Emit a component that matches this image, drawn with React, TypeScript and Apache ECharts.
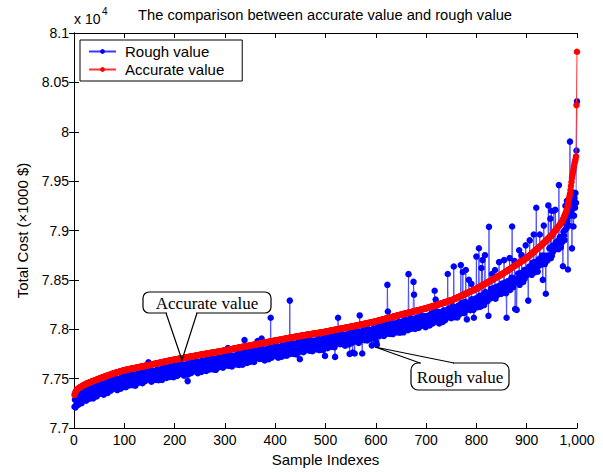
import React, { useEffect, useRef } from 'react';
import * as echarts from 'echarts';

const TITLE = 'The comparison between accurate value and rough value';
const LEGEND_ROUGH = 'Rough value';
const LEGEND_ACCURATE = 'Accurate value';
const X_NAME = 'Sample Indexes';
const Y_NAME = 'Total Cost (×1000 $)';

// Total cost in thousand $ (axis shown in units of 10^4), sample index = position + 1
const accurateValue: number[] = [
  77335,77352,77364,77374,77382,77389,77394,77398,77402,77405,77409,77412,77415,77418,77421,77424,77427,77430,77433,77436,
  77438,77441,77444,77446,77449,77451,77453,77455,77457,77459,77461,77463,77465,77467,77469,77471,77473,77475,77477,77479,
  77481,77483,77485,77487,77489,77491,77493,77495,77497,77500,77502,77504,77506,77507,77509,77511,77513,77515,77517,77519,
  77520,77522,77524,77526,77528,77530,77531,77533,77535,77537,77539,77540,77542,77544,77546,77548,77549,77551,77553,77555,
  77556,77558,77559,77561,77562,77564,77565,77567,77568,77570,77571,77573,77574,77576,77577,77579,77580,77582,77583,77585,
  77586,77587,77588,77589,77590,77591,77592,77593,77594,77596,77597,77598,77599,77600,77601,77602,77603,77604,77605,77606,
  77607,77608,77609,77610,77611,77613,77614,77615,77616,77617,77618,77619,77620,77621,77622,77623,77624,77626,77627,77628,
  77629,77630,77631,77632,77633,77634,77635,77636,77637,77638,77639,77640,77641,77643,77644,77645,77646,77647,77648,77649,
  77650,77651,77652,77654,77655,77656,77657,77658,77659,77660,77661,77662,77664,77665,77666,77667,77668,77669,77670,77671,
  77672,77674,77675,77676,77677,77678,77679,77680,77681,77682,77683,77684,77685,77686,77687,77688,77689,77690,77691,77692,
  77693,77694,77695,77696,77697,77698,77699,77700,77701,77702,77703,77704,77705,77705,77706,77707,77708,77709,77710,77711,
  77712,77713,77714,77715,77716,77717,77718,77719,77720,77721,77722,77723,77723,77724,77725,77726,77727,77728,77729,77730,
  77731,77732,77733,77734,77735,77736,77737,77738,77739,77740,77741,77742,77743,77744,77744,77745,77746,77747,77748,77749,
  77750,77751,77752,77752,77753,77754,77755,77756,77757,77758,77759,77760,77761,77761,77762,77763,77764,77765,77766,77767,
  77768,77769,77770,77770,77771,77772,77773,77774,77775,77776,77777,77778,77779,77779,77780,77781,77782,77783,77784,77785,
  77786,77787,77788,77789,77790,77791,77792,77793,77794,77795,77796,77797,77798,77799,77800,77801,77802,77803,77804,77805,
  77806,77807,77808,77809,77811,77812,77813,77814,77815,77816,77817,77818,77819,77820,77821,77822,77823,77824,77824,77825,
  77826,77827,77828,77829,77830,77831,77832,77833,77834,77835,77836,77837,77838,77839,77840,77841,77842,77843,77844,77845,
  77846,77847,77848,77849,77850,77851,77852,77853,77854,77855,77856,77857,77858,77859,77860,77861,77862,77863,77864,77865,
  77866,77867,77868,77869,77870,77871,77872,77873,77874,77875,77876,77877,77878,77879,77880,77881,77882,77883,77884,77885,
  77886,77887,77888,77889,77890,77891,77891,77892,77893,77894,77895,77896,77897,77898,77899,77900,77901,77902,77903,77904,
  77905,77906,77907,77908,77909,77910,77911,77912,77913,77914,77915,77916,77917,77918,77918,77919,77920,77921,77922,77923,
  77924,77925,77926,77927,77928,77929,77930,77931,77931,77932,77933,77934,77935,77936,77937,77938,77938,77939,77940,77941,
  77942,77943,77944,77944,77945,77946,77947,77948,77949,77949,77950,77951,77952,77953,77953,77954,77955,77956,77957,77958,
  77958,77959,77960,77961,77962,77962,77963,77964,77965,77966,77966,77967,77968,77969,77970,77971,77971,77972,77973,77975,
  77976,77977,77978,77979,77980,77981,77982,77983,77984,77985,77986,77987,77988,77989,77990,77991,77992,77993,77994,77995,
  77996,77997,77998,77999,78000,78001,78002,78003,78004,78005,78006,78007,78008,78009,78010,78011,78012,78013,78014,78015,
  78016,78017,78018,78019,78020,78021,78022,78023,78024,78025,78026,78027,78028,78029,78030,78031,78032,78033,78034,78035,
  78036,78037,78038,78039,78041,78042,78043,78044,78045,78046,78047,78048,78050,78051,78052,78053,78054,78055,78056,78057,
  78058,78059,78061,78062,78063,78064,78065,78066,78067,78068,78070,78071,78072,78073,78074,78075,78076,78077,78079,78080,
  78081,78083,78084,78085,78087,78088,78089,78091,78092,78093,78095,78096,78098,78099,78100,78102,78103,78104,78106,78107,
  78108,78110,78111,78112,78114,78115,78117,78118,78119,78121,78122,78123,78125,78126,78127,78129,78130,78131,78133,78134,
  78136,78137,78138,78140,78141,78142,78144,78145,78146,78148,78149,78150,78152,78153,78154,78156,78157,78158,78159,78161,
  78162,78163,78165,78166,78167,78168,78170,78171,78172,78174,78175,78176,78177,78179,78180,78181,78183,78184,78185,78186,
  78188,78189,78190,78191,78193,78194,78195,78197,78198,78199,78200,78202,78203,78204,78206,78207,78208,78209,78211,78212,
  78214,78215,78217,78219,78220,78222,78223,78225,78227,78228,78230,78231,78233,78235,78236,78238,78239,78241,78243,78244,
  78246,78247,78249,78251,78252,78254,78255,78257,78259,78260,78262,78263,78265,78267,78268,78270,78271,78273,78275,78276,
  78278,78280,78282,78284,78285,78287,78289,78290,78291,78292,78294,78297,78299,78301,78304,78306,78308,78311,78313,78315,
  78318,78320,78322,78325,78327,78330,78332,78334,78337,78339,78341,78344,78346,78348,78351,78353,78356,78358,78360,78363,
  78365,78367,78370,78372,78375,78377,78379,78382,78384,78386,78389,78391,78393,78396,78398,78401,78403,78405,78408,78410,
  78413,78416,78419,78422,78425,78427,78430,78433,78436,78439,78442,78445,78448,78451,78454,78456,78459,78462,78465,78468,
  78471,78474,78477,78480,78483,78485,78488,78491,78494,78497,78500,78503,78506,78509,78512,78514,78517,78520,78523,78526,
  78529,78532,78535,78538,78541,78543,78546,78549,78552,78555,78558,78562,78565,78568,78572,78575,78578,78582,78585,78588,
  78592,78595,78598,78602,78605,78608,78612,78615,78618,78622,78625,78628,78632,78635,78638,78642,78645,78648,78652,78655,
  78658,78662,78665,78668,78672,78675,78678,78682,78685,78688,78692,78695,78698,78702,78705,78708,78712,78715,78718,78722,
  78726,78731,78735,78740,78744,78748,78753,78757,78762,78766,78771,78775,78779,78784,78788,78793,78797,78802,78806,78810,
  78815,78819,78824,78828,78833,78837,78841,78846,78850,78855,78860,78865,78870,78875,78880,78885,78890,78895,78900,78905,
  78910,78915,78920,78925,78930,78935,78940,78945,78950,78955,78962,78968,78975,78981,78988,78994,79001,79007,79014,79020,
  79027,79033,79040,79046,79053,79059,79066,79072,79079,79085,79097,79110,79122,79135,79147,79160,79172,79185,79197,79210,
  79235,79262,79290,79318,79345,79372,79410,79450,79490,79530,79560,79590,79620,79650,79680,79700,79720,79750,80270,80810,
];

const roughValue: number[] = [
  77215,77287,77209,77284,77242,77339,77289,77233,77327,77275,77324,77262,77355,77308,77251,77344,77292,77385,77333,77311,
  77358,77286,77339,77276,77384,77326,77363,77310,77407,77344,77296,77388,77330,77367,77319,77411,77343,77300,77382,77409,
  77336,77383,77425,77352,77319,77406,77373,77425,77342,77405,77447,77364,77391,77427,77349,77406,77448,77385,77337,77429,
  77425,77382,77454,77366,77418,77455,77356,77448,77410,77477,77389,77440,77377,77464,77416,77498,77404,77446,77433,77400,
  77421,77448,77504,77416,77472,77384,77445,77497,77408,77475,77431,77488,77399,77461,77517,77429,77480,77417,77508,77455,
  77516,77492,77413,77459,77530,77441,77492,77458,77519,77431,77482,77548,77454,77510,77476,77537,77433,77499,77450,77526,
  77517,77428,77479,77545,77506,77453,77534,77500,77476,77562,77523,77464,77550,77501,77537,77453,77489,77566,77527,77483,
  77474,77510,77526,77487,77583,77504,77555,77665,77537,77488,77579,77515,77556,77468,77569,77535,77486,77577,77508,77554,
  77520,77576,77487,77554,77505,77596,77542,77483,77574,77520,77566,77502,77594,77545,77486,77577,77523,77614,77560,77536,
  77592,77519,77570,77506,77612,77553,77589,77535,77631,77567,77518,77609,77550,77586,77537,77628,77559,77515,77596,77622,
  77548,77594,77635,77561,77527,77613,77579,77630,77546,77607,77648,77564,77590,77625,77546,77602,77643,77579,77530,77621,
  77617,77573,77644,77555,77606,77475,77543,77634,77595,77661,77572,77623,77558,77644,77595,77676,77582,77623,77609,77575,
  77596,77622,77678,77589,77645,77556,77617,77668,77579,77645,77601,77657,77568,77629,77684,77595,77646,77582,77673,77619,
  77680,77656,77577,77622,77693,77604,77655,77621,77682,77593,77644,77710,77616,77671,77637,77698,77594,77660,77611,77687,
  77678,77589,77640,77705,77666,77612,77693,77659,77635,77721,77682,77623,77709,77659,77695,77611,77647,77723,77684,77640,
  77631,77667,77683,77644,77740,77810,77712,77628,77694,77645,77736,77672,77713,77624,77725,77691,77642,77733,77664,77710,
  77676,77732,77643,77709,77661,77752,77698,77639,77730,77676,77722,77658,77749,77700,77641,77732,77678,77769,77890,77690,
  77746,77672,77723,77659,77765,77706,77742,77688,77784,77720,77671,77762,77703,77739,77690,77781,77712,77668,77749,77775,
  77701,77747,77788,77714,77880,77766,77732,77783,77699,77760,77801,77717,77906,77779,77700,77756,77797,77733,77684,77775,
  77771,77727,77798,77709,77760,77796,77697,77788,77749,77815,78116,77777,77713,77799,77750,77831,77737,77778,77764,77730,
  77751,77777,77833,77744,77800,77711,77771,77822,77733,77799,77755,77811,77722,77783,77839,77750,77801,77737,77828,77774,
  77835,77811,77732,77778,77849,77760,77811,77777,78290,77749,77800,77866,77772,77828,77793,77854,77750,77816,77767,77843,
  77834,77745,77796,77862,77823,77769,77850,77816,77697,77877,77838,77779,77865,77816,77852,77768,77803,77879,77840,77796,
  77787,77823,77839,77799,77895,77816,77867,77783,77849,77799,77890,77826,77867,77778,77878,77844,77795,77886,77817,77863,
  77828,77884,77795,77861,77812,77902,77848,77789,77880,77826,77871,77807,77898,77849,77790,77881,77826,77917,77730,77840,
  77896,77822,77873,77809,77915,77856,77892,77838,77934,77870,77821,77912,77853,77889,77840,77931,77862,77818,77720,77925,
  77851,77897,77938,77864,78116,77916,77882,77933,77849,77910,77951,77867,77893,77929,77850,77906,77947,77883,77834,77925,
  77921,77877,77948,77859,77910,77946,77847,77750,77899,77965,77876,77927,77863,77765,77900,77981,77887,77755,77914,77880,
  77901,77927,77983,77894,77951,77862,77923,78140,77885,77951,77907,77963,77755,77936,77992,77903,77954,77890,77981,77927,
  77988,77964,77886,77932,78003,77914,77965,77931,77992,77903,77955,77837,77927,77983,77949,78010,77906,77972,77924,78000,
  77870,77844,77954,78020,77982,77928,78009,77976,77952,78038,78000,77941,78028,77979,78015,77932,77968,78044,78006,77962,
  77953,77990,78450,78180,78064,77985,78037,77953,78019,77971,78062,77998,78040,77951,78052,78019,77970,78061,77993,78039,
  78001,78057,77968,78035,77986,78077,78024,77965,78056,78003,78049,77985,78077,78028,77969,78061,78007,78098,78044,78021,
  78077,78003,78055,77991,78558,78038,78075,78021,78117,78054,78005,78096,78037,78074,78480,78350,78048,78004,78085,78111,
  78033,78079,78120,78046,78013,78099,78065,78117,78033,78094,78135,78052,78078,78114,78036,78092,78133,78069,78021,78112,
  78109,78065,78137,78049,78100,78137,78038,78130,78092,78158,78070,78121,78058,78145,78096,78178,78390,78126,78300,78079,
  78096,78122,78179,78091,78147,78059,78120,78172,78084,78150,78107,78163,78075,78137,78193,78105,78156,78093,78185,78131,
  78193,78170,78560,78139,78210,78122,78174,78140,78201,78112,78164,78232,78139,78196,78635,78226,78123,78191,78143,78220,
  78208,78120,78172,78240,78202,78150,78232,78199,78650,78264,78226,78169,78580,78208,78246,78163,78201,78278,78600,78198,
  78100,78222,78240,78202,78500,78222,78274,78192,78259,78460,78304,78241,78283,78196,78116,78266,78218,78310,78243,78736,
  78253,78311,78224,78292,78820,78337,78285,78228,78321,78620,78317,78700,78348,78301,78244,78336,78750,78377,78325,78303,
  78356,78284,78337,78136,79037,78325,78363,78311,78409,78347,78560,78393,78336,78374,78327,78419,78600,78310,78393,78421,
  78344,78392,78435,78363,78680,78418,78386,78439,78357,78420,78463,78382,78410,78448,78700,78430,78473,78412,78365,78116,
  78457,78415,78488,78402,78455,78720,78397,78490,78453,78522,79040,78488,78427,78515,78468,78690,78205,78503,78492,78196,
  78478,78507,78565,78478,78800,78450,78513,78567,78480,78750,78507,78565,78478,78542,78600,78513,78567,78850,78598,78547,
  78606,78586,78290,78560,78634,78900,78603,78572,78637,78551,78606,78675,78584,78960,78613,78678,78577,78647,79230,78680,
  78670,78584,78639,78708,78673,78960,78706,78676,78655,78745,78710,78500,78745,79050,78740,78660,78700,78360,78745,78705,
  78695,78735,79254,78720,78820,78745,79120,78720,79200,78745,78842,78783,78830,79200,78853,78824,79210,78877,78814,78865,
  78832,78893,78810,79460,78838,78934,78886,78832,78929,78880,78937,78638,78987,78950,78902,79005,79250,79065,79022,79300,
  79100,78605,79200,79050,79300,79900,79150,79250,79200,78819,79390,79300,79040,79150,79330,79230,79380,79280,79810,80307,
];

export default function App() {
  const ref = useRef<HTMLDivElement>(null);
  useEffect(() => {
    document.body.style.margin = '0';
    const chart = echarts.init(ref.current!, null, { renderer: 'svg' });
    const sans = '"Liberation Sans", Arial, Helvetica, sans-serif';
    const serif = '"Liberation Serif", "Times New Roman", serif';
    const rough = roughValue.map((v, i) => [i + 1, v]);
    const acc = accurateValue.map((v, i) => [i + 1, v]);
    const line = { show: true, lineStyle: { color: '#000', width: 1 } };
    const tick = { show: true, inside: true, length: 5, lineStyle: { color: '#000', width: 1 } };
    const fmtY = (v: number) => String(Math.round(v / 10) / 1000);

    chart.setOption({
      animation: false,
      backgroundColor: '#fff',
      grid: { left: 74, right: 26, top: 33, bottom: 41, containLabel: false },
      legend: {
        orient: 'vertical',
        left: 80,
        top: 40,
        data: [LEGEND_ROUGH, LEGEND_ACCURATE],
        backgroundColor: '#fff',
        borderColor: '#000',
        borderWidth: 1,
        borderRadius: 0,
        padding: [4, 18, 4, 8],
        itemGap: 3,
        itemWidth: 27,
        itemHeight: 6,
        textStyle: { fontFamily: sans, fontSize: 15, color: '#000', padding: [0, 0, 0, 4] },
      },
      xAxis: [
        {
          type: 'value', min: 0, max: 1000, interval: 100, position: 'bottom',
          axisLine: line, axisTick: tick, splitLine: { show: false },
          axisLabel: { color: '#000', fontFamily: sans, fontSize: 14, margin: 5 },
          name: X_NAME, nameLocation: 'middle', nameGap: 24,
          nameTextStyle: { color: '#000', fontFamily: sans, fontSize: 15, verticalAlign: 'top' },
        },
        {
          type: 'value', min: 0, max: 1000, interval: 100, position: 'top',
          axisLine: line, axisTick: tick, splitLine: { show: false }, axisLabel: { show: false },
        },
      ],
      yAxis: [
        {
          type: 'value', min: 77000, max: 81000, interval: 500, position: 'left',
          axisLine: line, axisTick: tick, splitLine: { show: false },
          axisLabel: { color: '#000', fontFamily: sans, fontSize: 14, margin: 5, formatter: fmtY },
          name: Y_NAME, nameLocation: 'middle', nameGap: 44,
          nameTextStyle: { color: '#000', fontFamily: sans, fontSize: 15 },
        },
        {
          type: 'value', min: 77000, max: 81000, interval: 500, position: 'right',
          axisLine: line, axisTick: tick, splitLine: { show: false }, axisLabel: { show: false },
        },
      ],
      series: [
        {
          name: LEGEND_ROUGH, type: 'line', data: rough, xAxisIndex: 0, yAxisIndex: 0,
          symbol: 'circle', symbolSize: 6.5, showAllSymbol: true,
          itemStyle: { color: '#0000ff', borderWidth: 0 },
          lineStyle: { color: '#3a3aff', width: 0.8 },
          z: 2,
        },
        {
          name: LEGEND_ACCURATE, type: 'line', data: acc, xAxisIndex: 0, yAxisIndex: 0,
          symbol: 'circle', symbolSize: 6.5, showAllSymbol: true,
          itemStyle: { color: '#ff0000', borderWidth: 0 },
          lineStyle: { color: '#ff3030', width: 1 },
          z: 3,
        },
      ],
      graphic: [
        { type: 'text', x: 325, y: 15, z: 100, style: { text: TITLE, fill: '#000', font: `14.7px ${sans}`, align: 'center', verticalAlign: 'middle' } },
        { type: 'text', x: 74, y: 19, z: 100, style: { text: 'x 10', fill: '#000', font: `14px ${sans}`, align: 'left', verticalAlign: 'middle' } },
        { type: 'text', x: 102, y: 11, z: 100, style: { text: '4', fill: '#000', font: `10px ${sans}`, align: 'left', verticalAlign: 'middle' } },
        // Accurate value callout
        { type: 'rect', z: 100, shape: { x: 143, y: 292, width: 128, height: 21, r: 6 }, style: { fill: '#fff', stroke: '#000', lineWidth: 1.2 } },
        { type: 'line', z: 101, shape: { x1: 167, y1: 313, x2: 196, y2: 313 }, style: { stroke: '#fff', lineWidth: 2.5 } },
        { type: 'polyline', z: 102, shape: { points: [[166, 313], [182, 360], [197, 313]] }, style: { stroke: '#000', fill: null, lineWidth: 1.2 } },
        { type: 'text', x: 207, y: 303, z: 103, style: { text: LEGEND_ACCURATE, fill: '#000', font: `17px ${serif}`, align: 'center', verticalAlign: 'middle' } },
        // Rough value callout
        { type: 'rect', z: 100, shape: { x: 411, y: 363, width: 98, height: 27, r: 7 }, style: { fill: '#fff', stroke: '#000', lineWidth: 1.2 } },
        { type: 'line', z: 101, shape: { x1: 421, y1: 363, x2: 453, y2: 363 }, style: { stroke: '#fff', lineWidth: 2.5 } },
        { type: 'polyline', z: 102, shape: { points: [[420, 363], [375, 347], [454, 363]] }, style: { stroke: '#000', fill: null, lineWidth: 1.2 } },
        { type: 'text', x: 460, y: 377, z: 103, style: { text: LEGEND_ROUGH, fill: '#000', font: `17px ${serif}`, align: 'center', verticalAlign: 'middle' } },
      ],
    });
    return () => chart.dispose();
  }, []);
  return <div ref={ref} style={{ position: 'absolute', left: 0, top: 0, width: 603, height: 472, background: '#fff' }} />;
}
